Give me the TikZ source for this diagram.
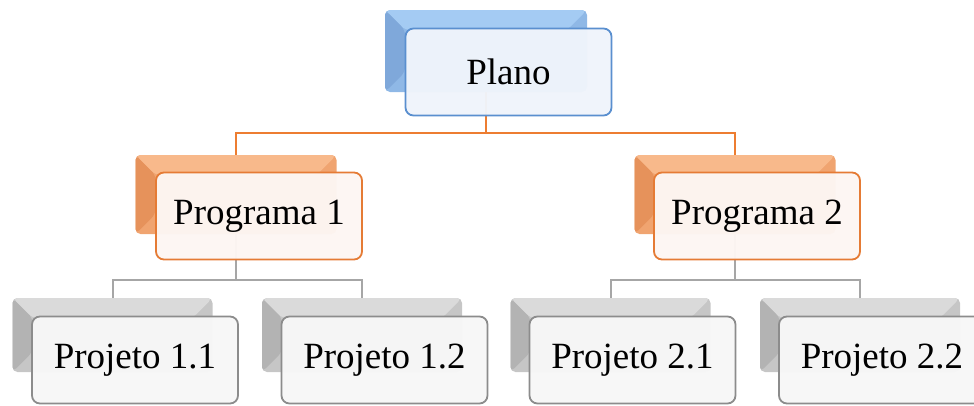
\documentclass[tikz,border=0pt]{standalone}
\usepackage{fontspec}
\setmainfont{Liberation Serif}
\usetikzlibrary{backgrounds}
\definecolor{bTop}{HTML}{A4CBF3}
\definecolor{bLeft}{HTML}{7FA8DA}
\definecolor{bBase}{HTML}{8FB8E6}
\definecolor{bLine}{HTML}{5A8FCF}
\definecolor{bFill}{HTML}{F0F4FB}
\definecolor{oTop}{HTML}{F8B98B}
\definecolor{oLeft}{HTML}{E6925B}
\definecolor{oBase}{HTML}{F0A470}
\definecolor{oLine}{HTML}{E57B35}
\definecolor{oFill}{HTML}{FDF6F3}
\definecolor{gTop}{HTML}{DADADA}
\definecolor{gLeft}{HTML}{B3B3B3}
\definecolor{gBase}{HTML}{C6C6C6}
\definecolor{gLine}{HTML}{8C8C8C}
\definecolor{gFill}{HTML}{F7F7F7}
\definecolor{oConn}{HTML}{ED7D31}
\definecolor{gConn}{HTML}{A6A6A6}
\begin{document}
\begin{tikzpicture}[x=1pt,y=-1pt,
  backbox/.style n args={3}{draw=none, fill=#1, rounded corners=5pt, inner sep=0pt,
    path picture={
      \fill[#2] (path picture bounding box.north west) -- (path picture bounding box.north east)
        -- ([shift={(-20pt,-20pt)}]path picture bounding box.north east)
        -- ([shift={(20pt,-20pt)}]path picture bounding box.north west) -- cycle;
      \fill[#3] (path picture bounding box.north west)
        -- ([shift={(20pt,-20pt)}]path picture bounding box.north west)
        -- ([shift={(20pt,20pt)}]path picture bounding box.south west)
        -- (path picture bounding box.south west) -- cycle;
    }},
  frontbox/.style n args={2}{draw=#1, line width=1.8pt, rounded corners=8pt, fill=#2,
    fill opacity=0.97, text opacity=1, minimum width=206pt, minimum height=87pt,
    inner sep=0pt, font=\fontsize{37}{40}\selectfont},
  lvlA/.style={backbox={bBase}{bTop}{bLeft}, minimum width=202pt, minimum height=82pt},
  lvlB/.style={backbox={oBase}{oTop}{oLeft}, minimum width=201pt, minimum height=79pt},
  lvlC/.style={backbox={gBase}{gTop}{gLeft}, minimum width=200pt, minimum height=74pt},
  fA/.style={frontbox={bLine}{bFill}},
  fB/.style={frontbox={oLine}{oFill}},
  fC/.style={frontbox={gLine}{gFill}},
  connA/.style={draw=oConn, line width=2pt},
  connB/.style={draw=gConn, line width=2pt}
]
\clip (0,0) rectangle (974,405);

% back boxes
\node[lvlA] (plano-b) at (486,51) {};
\node[lvlB] (prog1-b) at (236,194.5) {};
\node[lvlB] (prog2-b) at (735,194.5) {};
\node[lvlC] (p11-b) at (112.5,335) {};
\node[lvlC] (p12-b) at (362,335) {};
\node[lvlC] (p21-b) at (610.5,335) {};
\node[lvlC] (p22-b) at (860,335) {};

% front boxes
\node[fA] (plano) at (508.5,72) {Plano};
\node[fB] (prog1) at (259,216) {Programa 1};
\node[fB] (prog2) at (757,216) {Programa 2};
\node[fC] (p11) at (135,360) {Projeto 1.1};
\node[fC] (p12) at (384.5,360) {Projeto 1.2};
\node[fC] (p21) at (632.5,360) {Projeto 2.1};
\node[fC] (p22) at (882,360) {Projeto 2.2};

\coordinate (barA) at (0,133);
\coordinate (barB) at (0,280);
\coordinate (barC) at (0,280);

\begin{scope}[on background layer]
  \draw[connA] (plano-b.south) -- (plano-b.south |- barA) -| (prog1-b.north);
  \draw[connA] (plano-b.south |- barA) -| (prog2-b.north);
  \draw[connB] (prog1-b.south) -- (prog1-b.south |- barB) -| (p11-b.north);
  \draw[connB] (prog1-b.south |- barB) -| (p12-b.north);
  \draw[connB] (prog2-b.south) -- (prog2-b.south |- barC) -| (p21-b.north);
  \draw[connB] (prog2-b.south |- barC) -| (p22-b.north);
\end{scope}
\end{tikzpicture}
\end{document}
